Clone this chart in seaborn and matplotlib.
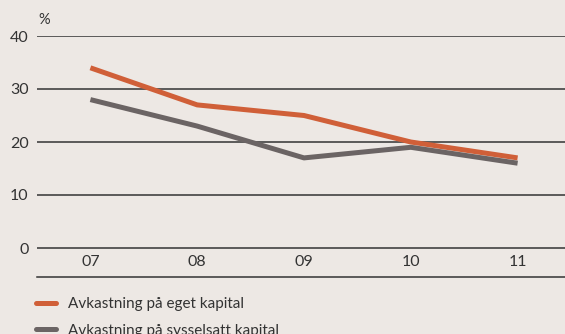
import matplotlib
matplotlib.use("Agg")
import matplotlib.pyplot as plt
import seaborn as sns
import pandas as pd
from matplotlib.lines import Line2D

years = ["07", "08", "09", "10", "11"]
eget = [34, 27, 25, 20, 17]
sysselsatt = [28, 23, 17, 19, 16]
series_names = ["Avkastning på eget kapital", "Avkastning på sysselsatt kapital"]
colors = ["#d05f38", "#6b6464"]
yticks = [0, 10, 20, 30, 40]

bg = "#ede8e4"
ink = "#333333"

sns.set_theme(style="white")
plt.rcParams["font.family"] = ["Lato", "DejaVu Sans"]

df = pd.DataFrame({
    "pos": list(range(len(years))) * 2,
    "value": eget + sysselsatt,
    "serie": [series_names[0]] * len(years) + [series_names[1]] * len(years),
})

W, H = 565, 334
fig = plt.figure(figsize=(W / 100, H / 100), dpi=100, facecolor=bg)
left, right, top, bottom = 37, 571, 36, 277
ax = fig.add_axes([left / W, 1 - bottom / H, (right - left) / W, (bottom - top) / H])
ax.set_facecolor(bg)

sns.lineplot(data=df, x="pos", y="value", hue="serie", palette=colors,
             linewidth=3.6, ax=ax, legend=False, solid_capstyle="butt")

ppu = (248 - 36) / 40.0
ax.set_ylim(-(277 - 248) / ppu, 40)
ax.set_xlim(-0.5, len(years) - 0.5)
ax.set_yticks(yticks)
ax.set_yticklabels([str(v) for v in yticks])
ax.set_xticks(range(len(years)))
ax.set_xticklabels(years)
for v in yticks:
    ax.axhline(v, color=ink, linewidth=1.1, zorder=0)
for s in ["top", "right", "left"]:
    ax.spines[s].set_visible(False)
ax.spines["bottom"].set_color(ink)
ax.spines["bottom"].set_linewidth(1.1)
ax.tick_params(axis="y", length=0, pad=6, labelsize=11.5, labelcolor=ink)
ax.tick_params(axis="x", length=0, pad=-15.5, labelsize=11.5, labelcolor=ink)
ax.set_xlabel("")
ax.set_ylabel("")
ax.grid(False)

fig.text(38 / W, 1 - 20 / H, "%", fontsize=10.5, color=ink, va="center", ha="left")

handles = [Line2D([0], [0], color=c, linewidth=3.6) for c in colors]
fig.legend(handles, series_names, loc="upper left",
           bbox_to_anchor=(30 / W, 1 - 291 / H), frameon=False,
           fontsize=11, labelcolor=ink, handlelength=1.3,
           handletextpad=0.8, labelspacing=0.82, borderaxespad=0)

fig.savefig("out.png", dpi=100, facecolor=bg)
